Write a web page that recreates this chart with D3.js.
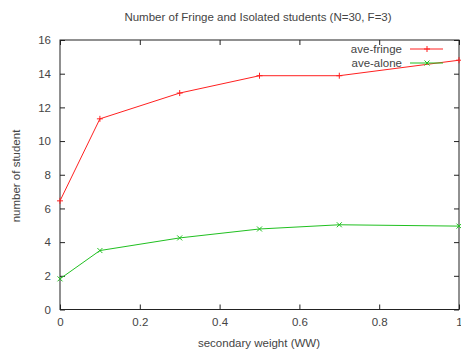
<!DOCTYPE html>
<html>
<head>
<meta charset="utf-8">
<script src="https://cdn.jsdelivr.net/npm/d3@7"></script>
<style>
  body { margin: 0; background: #fff; }
  text { font-family: "Liberation Sans", Arial, sans-serif; font-size: 11.5px; fill: #444; }
</style>
</head>
<body>
<svg id="chart" width="461" height="349"></svg>
<script>
var weights = [0, 0.1, 0.3, 0.5, 0.7, 1.0];
var fringe = [6.45, 11.32, 12.85, 13.88, 13.88, 14.8];
var alone = [1.82, 3.5, 4.25, 4.78, 5.03, 4.95];
var xTicks = [0, 0.2, 0.4, 0.6, 0.8, 1];
var yTicks = [0, 2, 4, 6, 8, 10, 12, 14, 16];

var margin = {left: 60, right: 2, top: 40, bottom: 40};
var W = 461, H = 349;
var svg = d3.select('#chart');

var x = d3.scaleLinear().domain([0, 1]).range([margin.left, W - margin.right]);
var y = d3.scaleLinear().domain([0, 16]).range([H - margin.bottom + 0.5, margin.top]);

var tick = 5;

// axes with inward ticks, mirrored like gnuplot
var bottom = svg.append('g').attr('transform', 'translate(0,' + y(0) + ')')
  .call(d3.axisBottom(x).tickValues(xTicks).tickSizeInner(-tick).tickSizeOuter(0)
    .tickFormat(function(d) { return d === 0 || d === 1 ? d : d.toFixed(1); }));
svg.append('g').attr('transform', 'translate(0,' + y(16) + ')')
  .call(d3.axisTop(x).tickValues(xTicks).tickSizeInner(-tick).tickSizeOuter(0).tickFormat(''));
var left = svg.append('g').attr('transform', 'translate(' + x(0) + ',0)')
  .call(d3.axisLeft(y).tickValues(yTicks).tickSizeInner(-tick).tickSizeOuter(0));
svg.append('g').attr('transform', 'translate(' + x(1) + ',0)')
  .call(d3.axisRight(y).tickValues(yTicks).tickSizeInner(-tick).tickSizeOuter(0).tickFormat(''));

svg.selectAll('.domain').remove();
svg.selectAll('.tick line').attr('stroke', '#222');
bottom.selectAll('text').attr('dy', '1.2em');
left.selectAll('text').attr('x', -9);
svg.selectAll('g text').attr('fill', '#444').attr('font-size', 11.5)
  .attr('font-family', '"Liberation Sans", Arial, sans-serif');

// frame
svg.append('rect')
  .attr('x', x(0)).attr('y', y(16))
  .attr('width', x(1) - x(0)).attr('height', y(0) - y(16))
  .attr('fill', 'none').attr('stroke', '#222').attr('stroke-width', 1);

var line = d3.line().x(function(d) { return x(d[0]); }).y(function(d) { return y(d[1]); });

function series(vals, color, marker) {
  var pts = weights.map(function(w, i) { return [w, vals[i]]; });
  svg.append('path').datum(pts)
    .attr('d', line).attr('fill', 'none').attr('stroke', color).attr('stroke-width', 1);
  svg.selectAll(null).data(pts).enter().append('path')
    .attr('transform', function(d) { return 'translate(' + x(d[0]) + ',' + y(d[1]) + ')'; })
    .attr('d', marker).attr('stroke', color).attr('fill', 'none');
}

var plus = 'M-3,0L3,0M0,-3L0,3';
var cross = 'M-2.5,-2.5L2.5,2.5M-2.5,2.5L2.5,-2.5';

series(fringe, '#ff2020', plus);
series(alone, '#20c020', cross);

// legend
var legend = [
  {name: 'ave-fringe', color: '#ff2020', marker: plus},
  {name: 'ave-alone', color: '#20c020', marker: cross}
];
var lg = svg.selectAll('.legend').data(legend).enter().append('g')
  .attr('class', 'legend')
  .attr('transform', function(d, i) { return 'translate(0,' + (49 + i * 14) + ')'; });
lg.append('text').attr('x', 402).attr('y', 4).attr('text-anchor', 'end').text(function(d) { return d.name; });
lg.append('line').attr('x1', 410).attr('x2', 443).attr('y1', 0).attr('y2', 0)
  .attr('stroke', function(d) { return d.color; });
lg.append('path').attr('transform', 'translate(427,0)')
  .attr('d', function(d) { return d.marker; }).attr('stroke', function(d) { return d.color; });

// titles
svg.append('text').attr('x', 258).attr('y', 21).attr('text-anchor', 'middle')
  .text('Number of Fringe and Isolated students (N=30, F=3)');
svg.append('text').attr('x', 259).attr('y', 347).attr('text-anchor', 'middle')
  .text('secondary weight (WW)');
svg.append('text').attr('transform', 'translate(20,' + 176 + ') rotate(-90)')
  .attr('text-anchor', 'middle').text('number of student');
</script>
</body>
</html>
